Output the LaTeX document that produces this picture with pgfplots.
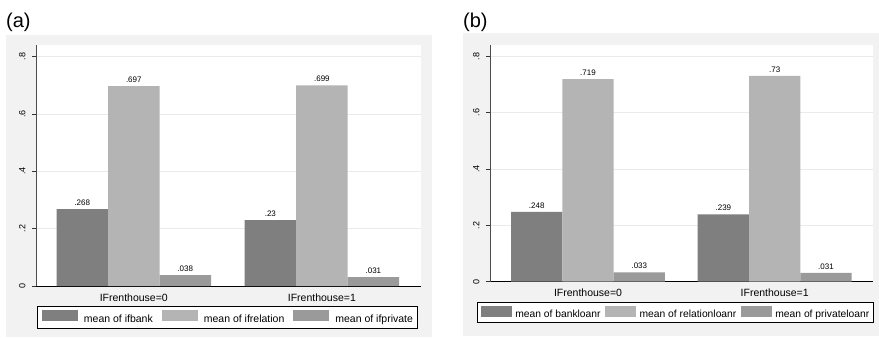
\documentclass[border=0pt]{standalone}
\usepackage{pgfplots}
\pgfplotsset{compat=1.18}
\usepackage{fontspec}
\setmainfont{Liberation Sans}
\definecolor{cbank}{HTML}{7F7F7F}
\definecolor{crel}{HTML}{B4B4B4}
\definecolor{cpriv}{HTML}{9A9A9A}
\definecolor{cbg}{HTML}{F2F2F2}
\definecolor{cgrid}{HTML}{EAEAEA}
\pgfplotsset{
 statabar/.style={
  scale only axis,
  ybar,
  ymin=0, ymax=0.84,
  xtick={0,1}, xticklabels={IFrenthouse=0,IFrenthouse=1},
  ytick={0,0.2,0.4,0.6,0.8}, yticklabels={0,.2,.4,.6,.8},
  axis x line*=bottom, axis y line*=left,
  x axis line style={black, line width=0.8pt, -},
  y axis line style={black!70, line width=0.9pt, -},
  ymajorgrids, grid style={cgrid, line width=0.6pt},
  xtick style={draw=none},
  ytick style={black!80, line width=0.7pt},
  tick align=outside, major tick length=4pt,
  yticklabel style={rotate=90, anchor=south, font=\fontsize{9}{10}\selectfont},
  yticklabel shift=3pt,
  xticklabel style={font=\fontsize{10.5}{12}\selectfont},
  axis background/.style={fill=white},
  nodes near coords={\pgfmathprintnumber[fixed,precision=3,skip 0.]{\pgfplotspointmeta}},
  every node near coord/.append style={font=\fontsize{8}{9}\selectfont, black},
  /pgf/number format/assume math mode=true,
  legend columns=3,
  legend cell align=left,
 }
}
\begin{document}
\begin{tikzpicture}
\useasboundingbox (0pt,0pt) rectangle (879pt,338pt);
\fill[cbg] (6pt,1pt) rectangle (432pt,303pt);
\fill[cbg] (463pt,2pt) rectangle (879pt,305pt);
\node[anchor=west, font=\fontsize{20}{24}\selectfont, inner sep=0pt] at (6pt,316pt) {(a)};
\node[anchor=west, font=\fontsize{20}{24}\selectfont, inner sep=0pt] at (463pt,316pt) {(b)};

\begin{axis}[statabar,
  at={(36pt,52pt)}, anchor=south west,
  width=385pt, height=241pt,
  xmin=-0.52, xmax=1.527,
  bar width=51.5pt,
  legend image code/.code={\fill[#1,draw=none] (0pt,-2pt) rectangle (36pt,9pt);},
  legend style={at={(0.5,0)}, anchor=north, yshift=-20pt, xshift=-1pt, draw=black, line width=0.6pt,
    fill=white, font=\fontsize{10.5}{12}\selectfont, inner xsep=4.5pt, inner ysep=4pt,
    nodes={inner xsep=0pt, inner ysep=0pt},
    /tikz/every odd column/.append style={column sep=6pt},
    /tikz/every even column/.append style={column sep=9pt}},
]
\addplot[fill=cbank, draw=none, bar shift=-51.5pt] coordinates {(0,0.268) (1,0.23)};
\addplot[fill=crel, draw=none, bar shift=0pt] coordinates {(0,0.697) (1,0.699)};
\addplot[fill=cpriv, draw=none, bar shift=51.5pt] coordinates {(0,0.038) (1,0.031)};
\legend{mean of ifbank, mean of ifrelation, mean of ifprivate}
\end{axis}

\begin{axis}[statabar,
  at={(490pt,56.3pt)}, anchor=south west,
  width=382.7pt, height=236.7pt,
  xmin=-0.525, xmax=1.525,
  bar width=51.3pt,
  legend image code/.code={\fill[#1,draw=none] (0pt,-2pt) rectangle (31pt,9pt);},
  legend style={at={(0.5,0)}, anchor=north, yshift=-20pt, xshift=-6.3pt, draw=black, line width=0.6pt,
    fill=white, font=\fontsize{10.3}{12}\selectfont, inner xsep=4pt, inner ysep=3.5pt,
    nodes={inner xsep=0pt, inner ysep=0pt},
    /tikz/every odd column/.append style={column sep=3.5pt},
    /tikz/every even column/.append style={column sep=4.5pt}},
]
\addplot[fill=cbank, draw=none, bar shift=-51.3pt] coordinates {(0,0.248) (1,0.239)};
\addplot[fill=crel, draw=none, bar shift=0pt] coordinates {(0,0.719) (1,0.73)};
\addplot[fill=cpriv, draw=none, bar shift=51.3pt] coordinates {(0,0.033) (1,0.031)};
\legend{mean of bankloanr, mean of relationloanr, mean of privateloanr}
\end{axis}
\end{tikzpicture}
\end{document}
